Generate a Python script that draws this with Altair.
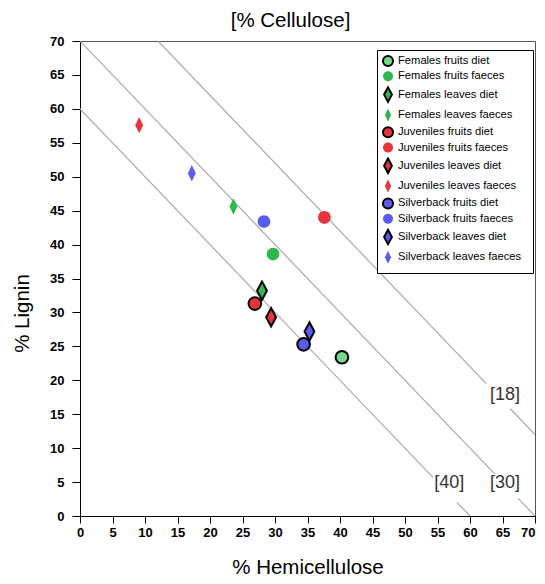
import altair as alt
import pandas as pd

groups = [
    "Females  fruits diet", "Females  fruits faeces", "Females  leaves  diet", "Females  leaves  faeces",
    "Juveniles  fruits diet", "Juveniles  fruits faeces", "Juveniles  leaves  diet", "Juveniles  leaves  faeces",
    "Silverback  fruits diet", "Silverback  fruits faeces", "Silverback  leaves  diet", "Silverback  leaves  faeces",
]
hemi = [40.3, 29.7, 28.0, 23.6, 26.9, 37.6, 29.4, 9.1, 34.4, 28.3, 35.3, 17.2]
lignin = [23.4, 38.6, 33.2, 45.6, 31.3, 44.0, 29.3, 57.6, 25.3, 43.4, 27.2, 50.5]

fills = ["#74d98a", "#2eb84c", "#2eb84c", "#2eb84c",
         "#e8333a", "#e8333a", "#e8333a", "#e8333a",
         "#5b5bf2", "#5b5bf2", "#5b5bf2", "#5b5bf2"]
strokes = ["black", "transparent", "black", "transparent"] * 3

CIRCLE = "M-1,0A1,1,0,1,0,1,0A1,1,0,1,0,-1,0Z"
DIAMOND_DIET = "M0,-1.45L0.78,0L0,1.45L-0.78,0Z"
DIAMOND_FAECES = "M0,-1.3L0.62,0L0,1.3L-0.62,0Z"
shapes = [CIRCLE, CIRCLE, DIAMOND_DIET, DIAMOND_FAECES] * 3

# iso-cellulose lines (segments broken around their labels)
seg_id = ["18a", "18a", "18b", "18b", "30a", "30a", "30b", "30b", "40a", "40a", "40b", "40b"]
seg_x = [12.0, 62.5, 66.2, 70.0, 0.0, 63.8, 67.4, 70.0, 0.0, 54.3, 58.0, 60.0]
seg_y = [70.0, 19.5, 15.8, 12.0, 70.0, 6.2, 2.6, 0.0, 60.0, 5.7, 2.0, 0.0]

lab_text = ["[18]", "[30]", "[40]"]
lab_x = [65.4, 65.4, 56.8]
lab_y = [17.8, 4.9, 4.9]

pts = pd.DataFrame({"group": groups, "hemi": hemi, "lignin": lignin})
segs = pd.DataFrame({"id": seg_id, "x": seg_x, "y": seg_y})
labs = pd.DataFrame({"t": lab_text, "x": lab_x, "y": lab_y})

FONT = "Liberation Sans"
TICKS = list(range(0, 75, 5))

xscale = alt.Scale(domain=[0, 70], nice=False)
yscale = alt.Scale(domain=[0, 70], nice=False)

xaxis = alt.Axis(title="% Hemicellulose", values=TICKS, grid=False,
                 labelFontWeight="bold", labelFontSize=13, labelFont=FONT, labelColor="black",
                 labelAlign={"condition": {"test": "datum.value == 70", "value": "right"}, "value": "center"},
                 titleFont=FONT, titleFontSize=20.5, titleFontWeight="normal", titleColor="black",
                 tickSize=7, tickColor="black", domainColor="black", labelPadding=3, titlePadding=18,
                 labelFlush=False, labelOverlap=False)
yaxis = alt.Axis(title="% Lignin", values=TICKS, grid=False,
                 labelFontWeight="bold", labelFontSize=13, labelFont=FONT, labelColor="black",
                 titleFont=FONT, titleFontSize=20.5, titleFontWeight="normal", titleColor="black",
                 tickSize=8, tickColor="black", domainColor="black", labelPadding=8, titlePadding=17,
                 titleY=272, labelFlush=False, labelOverlap=False)

lines = alt.Chart(segs).mark_line(color="#a8a8a8", strokeWidth=1.2, clip=True).encode(
    x=alt.X("x:Q", scale=xscale, axis=xaxis),
    y=alt.Y("y:Q", scale=yscale, axis=yaxis),
    detail="id:N",
)

texts = alt.Chart(labs).mark_text(font=FONT, fontSize=18, color="#333333").encode(
    x=alt.X("x:Q", scale=xscale, axis=xaxis),
    y=alt.Y("y:Q", scale=yscale, axis=yaxis),
    text="t:N",
)

legend = alt.Legend(title=None, orient="none", legendX=297, legendY=9,
                    fillColor="white", strokeColor="black", padding=5,
                    labelFont=FONT, labelFontSize=11.2, labelColor="black",
                    symbolSize=100, symbolStrokeWidth=2, rowPadding=-2.7, labelOffset=4,
                    labelLimit=200)

points = alt.Chart(pts).mark_point(filled=True, size=160, strokeWidth=2, opacity=1).encode(
    x=alt.X("hemi:Q", scale=xscale, axis=xaxis),
    y=alt.Y("lignin:Q", scale=yscale, axis=yaxis),
    fill=alt.Fill("group:N", scale=alt.Scale(domain=groups, range=fills), legend=legend, sort=groups),
    stroke=alt.Stroke("group:N", scale=alt.Scale(domain=groups, range=strokes), legend=legend, sort=groups),
    shape=alt.Shape("group:N", scale=alt.Scale(domain=groups, range=shapes), legend=legend, sort=groups),
)

chart = alt.layer(lines, texts, points).properties(
    width=455, height=475,
    title=alt.TitleParams("[% Cellulose]", font=FONT, fontSize=20.5, fontWeight="normal",
                          color="black", offset=4, dx=-17),
    autosize=alt.AutoSizeParams(type="none"),
    padding={"left": 72, "top": 33, "right": 2, "bottom": 60},
).configure_view(stroke="#555555", strokeWidth=1).configure_axis(labelOverlap=False)

chart.save("out.html", embed_options={"renderer": "svg", "actions": False})
